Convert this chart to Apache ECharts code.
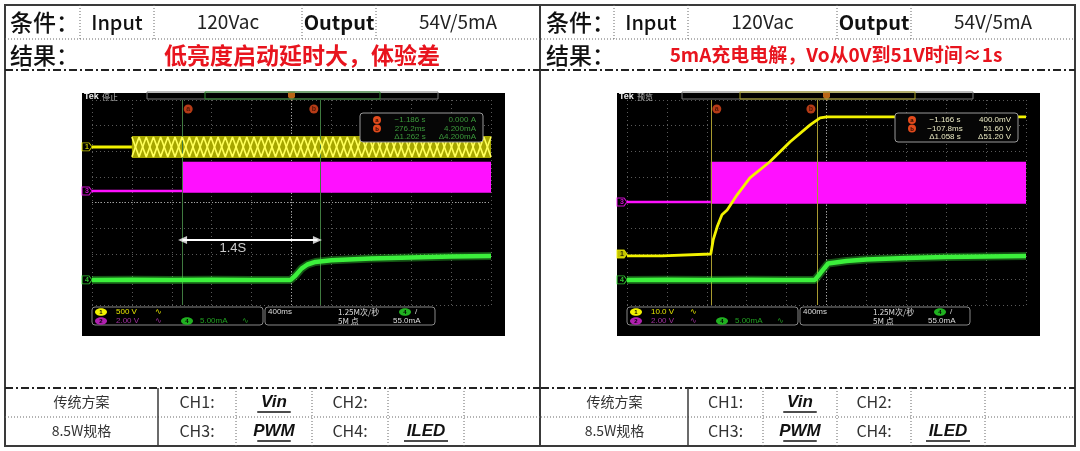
<!DOCTYPE html>
<html><head><meta charset="utf-8">
<script src="https://cdn.jsdelivr.net/npm/echarts@6/dist/echarts.min.js"></script>
<style>html,body{margin:0;padding:0;background:#fff}#c{width:1080px;height:451px}</style>
</head><body><div id="c"></div>
<script>
// ---------- table texts ----------
const conditionLabels = ["条件：", "Input", "120Vac", "Output", "54V/5mA"];
const resultLabel = "结果：";
const resultTexts = ["低亮度启动延时大，体验差", "5mA充电电解，Vo从0V到51V时间≈1s"];
const schemeLabels = ["传统方案", "8.5W规格"];
const channelLabels = [["CH1:", "Vin", "CH2:", ""], ["CH3:", "PWM", "CH4:", "ILED"]];
const scopeStates = ["停止", "预览"];

// ---------- scope waveforms (x in divisions 0..10, y in divisions 0..8) ----------
// Left scope
const L_cursors = [2.26, 5.71];
const L_yellowFlat = [[0, 6.17], [1.0, 6.17]];
const L_yellowBand = [[1.0, 10, 5.74, 6.60]];
const L_beatX = [1.00,1.18,1.36,1.54,1.72,1.90,2.08,2.26,2.44,2.62,2.80,2.98,3.16,3.34,3.52,3.70,3.88,4.06,4.24,4.42,4.60,4.78,4.96,5.14,5.32,5.50,5.68,5.86,6.04,6.22,6.40,6.58,6.76,6.94,7.12,7.30,7.48,7.66,7.84,8.02,8.20,8.38,8.56,8.74,8.92,9.10,9.28,9.46,9.64,9.82,10.00];
const L_beatA = [6.56,5.78,6.56,5.78,6.56,5.78,6.56,5.78,6.56,5.78,6.56,5.78,6.56,5.78,6.56,5.78,6.56,5.78,6.56,5.78,6.56,5.78,6.56,5.78,6.56,5.78,6.56,5.78,6.56,5.78,6.56,5.78,6.56,5.78,6.56,5.78,6.56,5.78,6.56,5.78,6.56,5.78,6.56,5.78,6.56,5.78,6.56,5.78,6.56,5.78,6.56];
const L_beatB = [5.78,6.56,5.78,6.56,5.78,6.56,5.78,6.56,5.78,6.56,5.78,6.56,5.78,6.56,5.78,6.56,5.78,6.56,5.78,6.56,5.78,6.56,5.78,6.56,5.78,6.56,5.78,6.56,5.78,6.56,5.78,6.56,5.78,6.56,5.78,6.56,5.78,6.56,5.78,6.56,5.78,6.56,5.78,6.56,5.78,6.56,5.78,6.56,5.78,6.56,5.78];
const L_magentaFlat = [[0, 4.45], [2.26, 4.45]];
const L_magentaBand = [[2.26, 10, 4.38, 5.59]];
const L_green = [[0, 0.98], [1, 0.99], [2, 0.98], [3, 0.99], [4, 0.98], [4.98, 0.98], [5.1, 1.15], [5.25, 1.42], [5.4, 1.58], [5.6, 1.68], [6.0, 1.75], [7.0, 1.81], [8.0, 1.85], [9.0, 1.89], [10, 1.91]];
const L_arrow = [[2.27, 2.54], [5.65, 2.54]];
const L_arrowLabel = [[3.53, 2.22, "1.4S"]];
const L_markers = [[6.17, "1"], [4.45, "3"], [0.98, "4"]];
const L_readout = [["−1.186 s", "0.000 A"], ["276.2ms", "4.200mA"], ["Δ1.262 s", "Δ4.200mA"]];
const L_status = ["500 V", "2.00 V", "5.00mA", "400ms", "1.25M次/秒", "5M 点", "55.0mA"];

// Right scope
const R_cursors = [2.10, 4.76];
const R_yellow = [[0, 1.92], [0.88, 1.92], [0.9, 1.99], [2.1, 1.99], [2.16, 2.54], [2.26, 3.05], [2.38, 3.52], [2.51, 3.71], [2.76, 4.30], [3.08, 4.96], [3.58, 5.59], [4.09, 6.37], [4.59, 7.03], [4.84, 7.30], [5.01, 7.34], [7.5, 7.34], [10, 7.34]];
const R_magentaFlat = [[0, 4.02], [2.10, 4.02]];
const R_magentaBand = [[2.10, 10, 3.95, 5.59]];
const R_green = [[0, 0.98], [1, 0.99], [2, 0.98], [3, 0.99], [4, 0.98], [4.71, 0.98], [4.85, 1.25], [5.04, 1.62], [5.5, 1.72], [6.0, 1.78], [7.0, 1.83], [8.0, 1.87], [9.0, 1.89], [10, 1.91]];
const R_markers = [[1.99, "1"], [4.02, "3"], [0.98, "4"]];
const R_readout = [["−1.166 s", "400.0mV"], ["−107.8ms", "51.60 V"], ["Δ1.058 s", "Δ51.20 V"]];
const R_status = ["10.0 V", "2.00 V", "5.00mA", "400ms", "1.25M次/秒", "5M 点", "55.0mA"];

// ---------- helpers ----------
const CJK = '"Noto Sans CJK SC"';
const SANS = '"Liberation Sans"';
const YEL = '#f2f200', MAG = '#ff10ff', GRN = '#3cf03c';

function txt(x, y, text, font, fill, align, z) {
  return {type: 'text', x: x, y: y, z: z || 10, silent: true,
    style: {text: text, font: font, fill: fill, align: align || 'center', textAlign: align || 'center', verticalAlign: 'middle', textVerticalAlign: 'middle'}};
}
function ln(x1, y1, x2, y2, color, w, dash, z) {
  return {type: 'line', z: z || 5, silent: true, shape: {x1: x1, y1: y1, x2: x2, y2: y2},
    style: {stroke: color, lineWidth: w, lineDash: dash || null}};
}
function badge(cx, cy, label, fill, color, z) {
  return [
    {type: 'circle', z: z, silent: true, shape: {cx: cx, cy: cy, r: 4}, style: {fill: fill}},
    txt(cx, cy + 0.5, label, 'bold 6px ' + SANS, color, 'center', z + 1)
  ];
}

const graphics = [];
graphics.push({type: 'rect', z: 5, silent: true, shape: {x: 5, y: 5, width: 1070, height: 441}, style: {fill: null, stroke: '#3a3a3a', lineWidth: 2}});
graphics.push(ln(540, 5, 540, 446, '#3a3a3a', 2));

const panels = [
  {x0: 5, x1: 540, top: [80, 154, 302, 376], bot: [158, 236, 312, 388, 464], redX: 302, redFont: 'bold 23px '},
  {x0: 541, x1: 1075, top: [614, 688, 837, 911], bot: [688, 763, 837, 911, 985], redX: 836, redFont: 'bold 19px '}
];
panels.forEach((p, i) => {
  graphics.push(ln(p.x0, 39, p.x1, 39, '#666', 1, [1, 2]));
  p.top.forEach(x => graphics.push(ln(x, 5, x, 39, '#666', 1, [1, 2])));
  graphics.push(ln(p.x0, 70, p.x1, 70, '#222', 2, [8, 3, 2, 3]));
  graphics.push(ln(p.x0, 388, p.x1, 388, '#222', 2, [8, 3, 2, 3]));
  graphics.push(ln(p.x0, 417, p.x1, 417, '#666', 1, [1, 2]));
  graphics.push(ln(p.bot[0], 388, p.bot[0], 446, '#3a3a3a', 1.5));
  p.bot.slice(1).forEach(x => graphics.push(ln(x, 388, x, 446, '#666', 1, [1, 2])));
  const cx = [ (p.top[0] + p.top[1]) / 2, (p.top[1] + p.top[2]) / 2, (p.top[2] + p.top[3]) / 2, (p.top[3] + p.x1) / 2 ];
  graphics.push(txt(p.x0 + 5, 22, conditionLabels[0], '500 23px ' + CJK, '#111', 'left'));
  graphics.push(txt(cx[0], 22, conditionLabels[1], '500 20px ' + CJK, '#111'));
  graphics.push(txt(cx[1], 22, conditionLabels[2], '19px ' + CJK, '#222'));
  graphics.push(txt(cx[2], 22, conditionLabels[3], 'bold 20px ' + CJK, '#111'));
  graphics.push(txt(cx[3], 22, conditionLabels[4], '19px ' + CJK, '#222'));
  graphics.push(txt(p.x0 + 5, 55, resultLabel, '500 23px ' + CJK, '#111', 'left'));
  graphics.push(txt(p.redX, 55, resultTexts[i], p.redFont + CJK, '#e8141e'));
  const bc = [(p.x0 + p.bot[0]) / 2, (p.bot[0] + p.bot[1]) / 2, (p.bot[1] + p.bot[2]) / 2, (p.bot[2] + p.bot[3]) / 2, (p.bot[3] + p.bot[4]) / 2];
  const rowsY = [402, 431];
  rowsY.forEach((ry, r) => {
    graphics.push(txt(bc[0], ry, schemeLabels[r], '14px ' + CJK, '#333'));
    const row = channelLabels[r];
    graphics.push(txt(bc[1], ry, row[0], '16px ' + CJK, '#333'));
    graphics.push(txt(bc[3], ry, row[2], '16px ' + CJK, '#333'));
    [[bc[2], row[1]], [bc[4], row[3]]].forEach(([x, t]) => {
      if (!t) return;
      graphics.push(txt(x, ry, t, 'italic bold 17px ' + SANS, '#111'));
      const w = t.length * 10.5 + 2;
      graphics.push(ln(x - w / 2, ry + 10, x + w / 2, ry + 10, '#111', 1.5));
    });
  });
});

function scopeDecor(dx, state, readout, readColor, status, cursorColorBar) {
  const g = [];
  g.push({type: 'rect', z: -10, silent: true, shape: {x: 82 + dx, y: 93, width: 423, height: 243}, style: {fill: '#000'}});
  g.push(txt(84 + dx, 97, 'Tek', 'bold 9px ' + SANS, '#eee', 'left', 20));
  g.push(txt(102 + dx, 97, state, '8px ' + CJK, '#bbb', 'left', 20));
  g.push({type: 'rect', z: 20, silent: true, shape: {x: 147 + dx, y: 92, width: 291, height: 7}, style: {fill: null, stroke: '#777', lineWidth: 1}});
  g.push({type: 'rect', z: 21, silent: true, shape: {x: 205 + dx, y: 92, width: 175, height: 7}, style: {fill: null, stroke: cursorColorBar, lineWidth: 1}});
  g.push({type: 'rect', z: 30, silent: true, shape: {x: 360 + dx, y: 113, width: 123, height: 29, r: 3}, style: {fill: '#060606', stroke: '#999', lineWidth: 1}});
  const ry = [120, 128.5, 137];
  g.push(...badge(377 + dx, ry[0], 'a', '#e24a1c', '#2a0a00', 31));
  g.push(...badge(377 + dx, ry[1], 'b', '#e24a1c', '#2a0a00', 31));
  readout.forEach((r, k) => {
    g.push(txt(410 + dx, ry[k], r[0], '8px ' + SANS, readColor, 'center', 31));
    g.push(txt(476 + dx, ry[k], r[1], '8px ' + SANS, readColor, 'right', 31));
  });
  g.push({type: 'rect', z: 30, silent: true, shape: {x: 92 + dx, y: 307, width: 171, height: 18, r: 3}, style: {fill: '#000', stroke: '#888', lineWidth: 1}});
  g.push({type: 'rect', z: 30, silent: true, shape: {x: 265 + dx, y: 307, width: 170, height: 18, r: 3}, style: {fill: '#000', stroke: '#888', lineWidth: 1}});
  g.push({type: 'ellipse', z: 31, silent: true, shape: {cx: 101 + dx, cy: 312, rx: 6, ry: 3.8}, style: {fill: YEL}});
  g.push(txt(101 + dx, 312, '1', 'bold 6px ' + SANS, '#000', 'center', 32));
  g.push(txt(116 + dx, 312, status[0], '8px ' + SANS, '#e6e600', 'left', 31));
  g.push(txt(158 + dx, 312, '∿', '8px ' + SANS, '#e6e600', 'center', 31));
  g.push({type: 'ellipse', z: 31, silent: true, shape: {cx: 101 + dx, cy: 321, rx: 6, ry: 3.8}, style: {fill: '#b020b0'}});
  g.push(txt(101 + dx, 321, '2', 'bold 6px ' + SANS, '#000', 'center', 32));
  g.push(txt(116 + dx, 321, status[1], '8px ' + SANS, '#a030a0', 'left', 31));
  g.push(txt(158 + dx, 321, '∿', '8px ' + SANS, '#a030a0', 'center', 31));
  g.push({type: 'ellipse', z: 31, silent: true, shape: {cx: 187 + dx, cy: 321, rx: 6, ry: 3.8}, style: {fill: '#20b020'}});
  g.push(txt(187 + dx, 321, '4', 'bold 6px ' + SANS, '#000', 'center', 32));
  g.push(txt(200 + dx, 321, status[2], '8px ' + SANS, '#20a020', 'left', 31));
  g.push(txt(245 + dx, 321, '∿', '8px ' + SANS, '#20a020', 'center', 31));
  g.push(txt(268 + dx, 312, status[3], '8px ' + SANS, '#ddd', 'left', 31));
  g.push(txt(338 + dx, 312, status[4], '8px ' + CJK, '#ddd', 'left', 31));
  g.push(txt(338 + dx, 321, status[5], '8px ' + CJK, '#ddd', 'left', 31));
  g.push({type: 'ellipse', z: 31, silent: true, shape: {cx: 405 + dx, cy: 312, rx: 6, ry: 3.8}, style: {fill: '#20b020'}});
  g.push(txt(405 + dx, 312, '4', 'bold 6px ' + SANS, '#000', 'center', 32));
  g.push(txt(415 + dx, 312, '/', '8px ' + SANS, '#ddd', 'left', 31));
  g.push(txt(393 + dx, 321, status[6], '8px ' + SANS, '#ddd', 'left', 31));
  return g;
}
graphics.push(...scopeDecor(0, scopeStates[0], L_readout, '#3c9a3c', L_status, '#2a8a2a'));
graphics.push(...scopeDecor(535, scopeStates[1], R_readout, '#ecebc4', R_status, '#a8a020'));

const grids = [
  {left: 92, top: 100, width: 399, height: 205, show: false},
  {left: 627, top: 100, width: 399, height: 205, show: false}
];
function xAx(i) {
  return {type: 'value', gridIndex: i, min: 0, max: 10, interval: 1,
    axisLine: {show: false}, axisTick: {show: false}, axisLabel: {show: false},
    splitLine: {show: true, lineStyle: {color: '#5a5a5a', width: 1, type: [1, 3]}}};
}
function yAx(i) {
  return {type: 'value', gridIndex: i, min: 0, max: 8, interval: 1,
    axisLine: {show: false}, axisTick: {show: false}, axisLabel: {show: false},
    splitLine: {show: true, lineStyle: {color: '#5a5a5a', width: 1, type: [1, 3]}}};
}
function band(i, data, fill, z) {
  return {type: 'custom', xAxisIndex: i, yAxisIndex: i, data: data, z: z, silent: true,
    encode: {x: [0, 1], y: [2, 3]},
    renderItem: function (params, api) {
      const a = api.coord([api.value(0), api.value(3)]);
      const b = api.coord([api.value(1), api.value(2)]);
      return {type: 'rect', shape: {x: a[0], y: a[1], width: b[0] - a[0], height: b[1] - a[1]}, style: {fill: fill}};
    }};
}
function line(i, data, color, width, z, extra) {
  return Object.assign({type: 'line', xAxisIndex: i, yAxisIndex: i, data: data, showSymbol: false, symbol: 'none',
    silent: true, animation: false, z: z || 3, lineStyle: {color: color, width: width}}, extra || {});
}
function zip(xs, ys) { return xs.map((x, k) => [x, ys[k]]); }
function cursorLines(i, xs, color) {
  return line(i, [], color, 1, 2, {markLine: {silent: true, symbol: 'none', animation: false,
    lineStyle: {color: color, width: 1, type: 'solid'}, label: {show: false},
    data: xs.map(x => ({xAxis: x}))}});
}
function centerCross(i) {
  return [
    line(i, [[5, 0], [5, 8]], '#9a9a9a', 1, 1, {lineStyle: {color: '#a0a0a0', width: 1, type: [1, 2]}}),
    line(i, [[0, 4], [10, 4]], '#9a9a9a', 1, 1, {lineStyle: {color: '#a0a0a0', width: 1, type: [1, 2]}})
  ];
}
function cursorBadges(i, xs) {
  return {type: 'scatter', xAxisIndex: i, yAxisIndex: i, silent: true, clip: false, z: 12,
    data: [[xs[0], 8, 'a', 6], [xs[1], 8, 'b', -6]].map(d => ({value: [d[0], d[1]], symbolOffset: [d[3], 9], label: {formatter: d[2]}})),
    symbol: 'circle', symbolSize: 9, itemStyle: {color: '#e24a1c'},
    label: {show: true, position: 'inside', color: '#3a0c00', fontSize: 7, fontWeight: 'bold', fontFamily: 'Liberation Sans'}};
}
function trigger(i) {
  return {type: 'scatter', xAxisIndex: i, yAxisIndex: i, silent: true, clip: false, z: 12,
    data: [[5, 8]], symbol: 'path://M0,0 L8,0 L8,6 L4,10 L0,6 Z', symbolSize: [7, 9], symbolOffset: [0, -4],
    itemStyle: {color: '#e8801a'}};
}
function markers(i, list, filledFirst) {
  const cols = [YEL, MAG, GRN];
  return {type: 'scatter', xAxisIndex: i, yAxisIndex: i, silent: true, clip: false, z: 12,
    data: list.map((m, k) => ({value: [0, m[0]],
      itemStyle: {color: (filledFirst && k === 0) ? cols[k] : '#000', borderColor: cols[k], borderWidth: 1},
      label: {formatter: m[1], color: (filledFirst && k === 0) ? '#000' : cols[k]}})),
    symbol: 'path://M0,0 L7,0 L10,4 L7,8 L0,8 Z', symbolSize: [10, 8], symbolOffset: [-5, 0],
    label: {show: true, position: 'inside', fontSize: 7, fontWeight: 'bold', fontFamily: 'Liberation Sans'}};
}

const series = [];
series.push(...centerCross(0));
series.push(cursorLines(0, L_cursors, '#3f7a3f'));
series.push(band(0, L_yellowBand, '#a6a600', 4));
series.push(line(0, zip(L_beatX, L_beatA), '#ffff58', 1.6, 5));
series.push(line(0, zip(L_beatX, L_beatB), '#ffff58', 1.6, 5));
series.push(line(0, L_yellowFlat, YEL, 3, 5));
series.push(band(0, L_magentaBand, MAG, 4));
series.push(line(0, L_magentaFlat, MAG, 2.5, 5));
series.push(line(0, L_green, 'rgba(60,240,60,0.35)', 8, 5));
series.push(line(0, L_green, GRN, 4.5, 6));
series.push(line(0, L_arrow, '#ffffff', 2, 8));
series.push({type: 'scatter', xAxisIndex: 0, yAxisIndex: 0, silent: true, z: 9,
  data: [{value: L_arrow[0], symbolRotate: 90}, {value: L_arrow[1], symbolRotate: -90}],
  symbol: 'triangle', symbolSize: [8, 9], itemStyle: {color: '#fff'}});
series.push({type: 'scatter', xAxisIndex: 0, yAxisIndex: 0, silent: true, z: 9,
  data: L_arrowLabel.map(d => ({value: [d[0], d[1]], label: {formatter: d[2]}})), symbolSize: 0,
  label: {show: true, position: 'inside', color: '#fff', fontSize: 13, fontFamily: 'Liberation Sans'}});
series.push(cursorBadges(0, L_cursors));
series.push(trigger(0));
series.push(markers(0, L_markers, false));
series.push(...centerCross(1));
series.push(cursorLines(1, R_cursors, '#a89a30'));
series.push(band(1, R_magentaBand, MAG, 4));
series.push(line(1, R_magentaFlat, MAG, 2.5, 5));
series.push(line(1, R_green, 'rgba(60,240,60,0.35)', 8, 5));
series.push(line(1, R_green, GRN, 4.5, 6));
series.push(line(1, R_yellow, YEL, 2.8, 7));
series.push(cursorBadges(1, R_cursors));
series.push(trigger(1));
series.push(markers(1, R_markers, true));

const chart = echarts.init(document.getElementById('c'), null, {renderer: 'canvas', width: 1080, height: 451});
chart.setOption({
  animation: false,
  backgroundColor: '#ffffff',
  grid: grids,
  xAxis: [xAx(0), xAx(1)],
  yAxis: [yAx(0), yAx(1)],
  series: series,
  graphic: {elements: graphics}
});
</script>
</body></html>
